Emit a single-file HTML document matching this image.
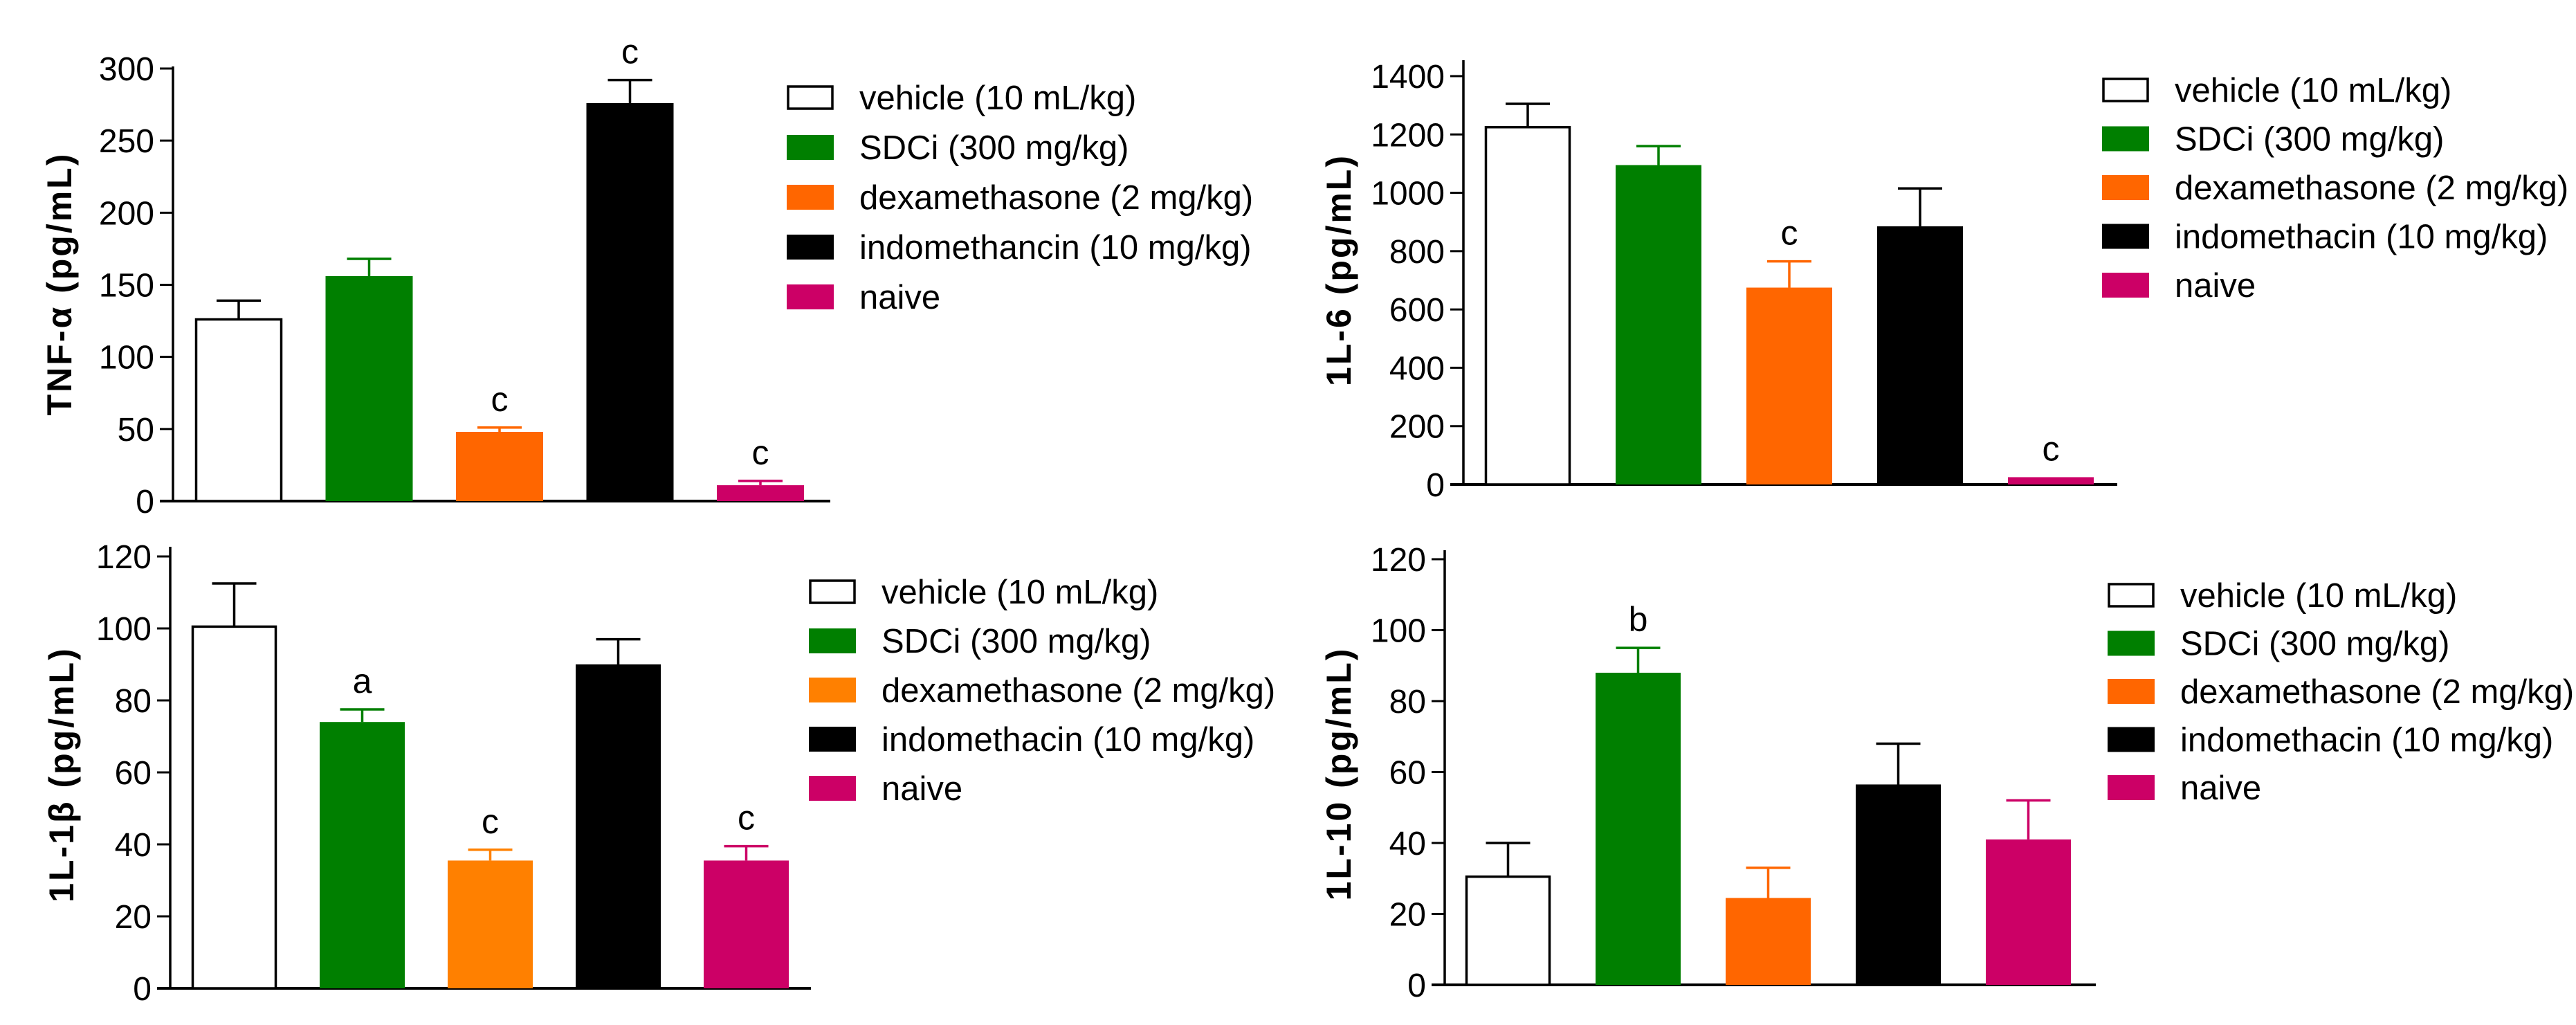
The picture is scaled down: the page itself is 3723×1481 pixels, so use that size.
<!DOCTYPE html>
<html><head><meta charset="utf-8"><style>
html,body{margin:0;padding:0;background:#fff;}
svg{display:block;font-family:"Liberation Sans",Arial,sans-serif;}
</style></head><body>
<svg id="fig" width="3723" height="1481" viewBox="0 0 3723 1481" xmlns="http://www.w3.org/2000/svg"></svg>
<script>
// ---- data ----
const groups = ["vehicle (10 mL/kg)","SDCi (300 mg/kg)","dexamethasone (2 mg/kg)","indomethacin (10 mg/kg)","naive"];
const groupsTNF = ["vehicle (10 mL/kg)","SDCi (300 mg/kg)","dexamethasone (2 mg/kg)","indomethancin (10 mg/kg)","naive"];
const tnfValues = [126, 156, 48, 276, 11];
const tnfErrors = [13, 12, 3, 16, 3];
const tnfLetters = ["", "", "c", "c", "c"];
const tnfTicks = [0, 50, 100, 150, 200, 250, 300];
const il6Values = [1225, 1095, 675, 885, 25];
const il6Errors = [80, 65, 90, 130, 0];
const il6Letters = ["", "", "c", "", "c"];
const il6Ticks = [0, 200, 400, 600, 800, 1000, 1200, 1400];
const il1bValues = [100.5, 74, 35.5, 90, 35.5];
const il1bErrors = [12, 3.5, 3, 7, 4];
const il1bLetters = ["", "a", "c", "", "c"];
const il1bTicks = [0, 20, 40, 60, 80, 100, 120];
const il10Values = [30.5, 88, 24.5, 56.5, 41];
const il10Errors = [9.5, 7, 8.5, 11.5, 11];
const il10Letters = ["", "b", "", "", ""];
const il10Ticks = [0, 20, 40, 60, 80, 100, 120];

const NS = "http://www.w3.org/2000/svg";
const svg = document.getElementById("fig");
function mk(tag, attrs, parent){
  const e = document.createElementNS(NS, tag);
  for (const k in attrs) e.setAttribute(k, attrs[k]);
  (parent||svg).appendChild(e);
  return e;
}

function panel(cfg){
  const g = mk("g", {});
  
  
  const ymax = cfg.ticks[cfg.ticks.length-1];
  const y = v => cfg.y0 - (v/ymax)*(cfg.y0 - cfg.yTop);
  const x = i => cfg.x0 + i*cfg.step;
  // axes
  const ya = mk("line", {x1:cfg.ax, y1:cfg.axTop, x2:cfg.ax, y2:cfg.y0+1.5, stroke:"#000","stroke-width":3.5}, g);
  
  
  const xa = mk("line", {x1:cfg.ax-19, y1:cfg.y0, x2:cfg.axRight, y2:cfg.y0, stroke:"#000","stroke-width":4}, g);
  
  
  cfg.ticks.forEach(t => {
    const ty = y(t);
    const tl = mk("line", {x1:cfg.ax-19, y1:ty, x2:cfg.ax, y2:ty, stroke:"#000","stroke-width":3}, g);
    
    
    const tx = mk("text", {x:cfg.ax-27, y:ty+17, "font-size":48, "text-anchor":"end", fill:"#000"}, g);
    tx.textContent = t;
    
    
  });
  // title
  const tt = mk("text", {x:0, y:0, "font-size":50, "font-weight":"bold", "text-anchor":"middle", fill:"#000", "letter-spacing":"3",
    transform:`translate(${cfg.titleX},${cfg.titleY}) rotate(-90)`}, g);
  tt.textContent = cfg.title;
  
  
  // bars
  cfg.values.forEach((v, i) => {
    const bx = x(i), by = y(v), col = cfg.colors[i];
    const hollow = col === "none";
    const r = mk("rect", hollow ?
      {x:bx+1.5, y:by, width:cfg.bw-3, height:cfg.y0-by, fill:"#fff", stroke:"#000", "stroke-width":3.5} :
      {x:bx, y:by, width:cfg.bw, height:cfg.y0-by, fill:col}, g);
    
    
    const ec = hollow ? "#000" : col;
    const cx = bx + cfg.bw/2;
    const e = cfg.errors[i];
    if (e > 0) {
      const ey = y(v + e);
      const el = mk("path", {d:`M${cx},${by} V${ey} M${cx-32},${ey} H${cx+32}`, stroke:ec, "stroke-width":3.5, fill:"none"}, g);
      
      
    }
    if (cfg.letters[i]) {
      const lt = mk("text", {x:cx, y:y(v+e)-24, "font-size":50, "text-anchor":"middle", fill:"#000"}, g);
      lt.textContent = cfg.letters[i];
      
      
    }
  });
  // legend
  cfg.labels.forEach((lab, i) => {
    const cy = cfg.legY + i*cfg.legStep;
    const col = cfg.colors[i];
    const b = mk("rect", col === "none" ?
      {x:cfg.legX+2, y:cy-16, width:64, height:32, fill:"#fff", stroke:"#000", "stroke-width":3.5} :
      {x:cfg.legX, y:cy-18, width:68, height:36, fill:col}, g);
    
    
    const t = mk("text", {x:cfg.legX+105, y:cy+17, "font-size":49, fill:"#000"}, g);
    t.textContent = lab;
    
    
  });
}

const C1 = ["none","#007f00","#ff6600","#000000","#cc0066"];
const C3 = ["none","#007f00","#ff8000","#000000","#cc0066"];

panel({name:"tnf-alpha-chart", values:tnfValues, errors:tnfErrors, letters:tnfLetters, ticks:tnfTicks, labels:groupsTNF, colors:C1,
  ax:250, axTop:96, axRight:1200, y0:724, yTop:99, x0:282, step:188.5, bw:126,
  title:"TNF-α  (pg/mL)", titleX:103, titleY:410, legX:1137, legY:141, legStep:72});
panel({name:"il-6-chart", values:il6Values, errors:il6Errors, letters:il6Letters, ticks:il6Ticks, labels:groups, colors:C1,
  ax:2115, axTop:87, axRight:3060, y0:700, yTop:110, x0:2146, step:189, bw:124,
  title:"1L-6  (pg/mL)", titleX:1952, titleY:390, legX:3038, legY:130, legStep:70.5});
panel({name:"il-1beta-chart", values:il1bValues, errors:il1bErrors, letters:il1bLetters, ticks:il1bTicks, labels:groups, colors:C3,
  ax:246, axTop:790, axRight:1172, y0:1428, yTop:804, x0:277, step:185, bw:123,
  title:"1L-1β  (pg/mL)", titleX:106, titleY:1119, legX:1169, legY:855, legStep:71});
panel({name:"il-10-chart", values:il10Values, errors:il10Errors, letters:il10Letters, ticks:il10Ticks, labels:groups, colors:C1,
  ax:2088, axTop:795, axRight:3029, y0:1423, yTop:808, x0:2118, step:188, bw:123,
  title:"1L-10  (pg/mL)", titleX:1952, titleY:1118, legX:3046, legY:860, legStep:69.5});
</script>
</body></html>
